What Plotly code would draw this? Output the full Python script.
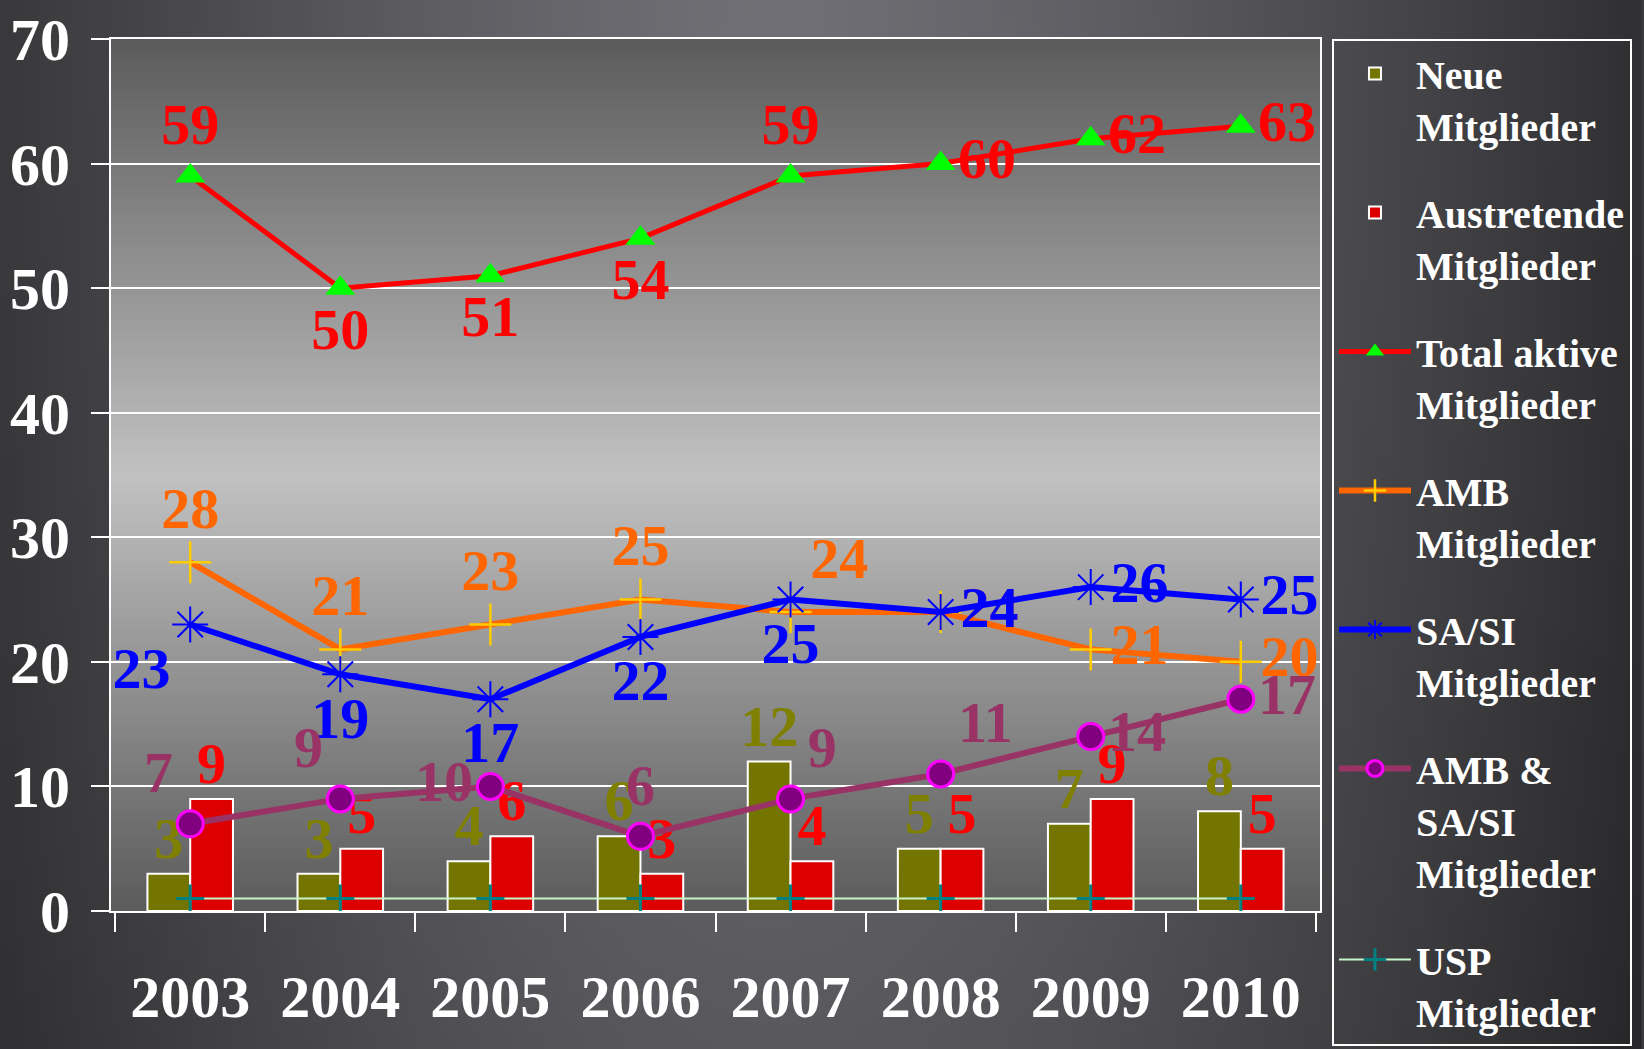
import base64
import struct
import zlib

import numpy as np
import plotly.graph_objects as go

YEARS = ["2003", "2004", "2005", "2006", "2007", "2008", "2009", "2010"]
NEUE = [3, 3, 4, 6, 12, 5, 7, 8]
AUSTRETENDE = [9, 5, 6, 3, 4, 5, 9, 5]
TOTAL = [59, 50, 51, 54, 59, 60, 62, 63]
AMB = [28, 21, 23, 25, 24, 24, 21, 20]
SASI = [23, 19, 17, 22, 25, 24, 26, 25]
AMB_SASI = [7, 9, 10, 6, 9, 11, 14, 17]
USP = [1, 1, 1, 1, 1, 1, 1, 1]

W, H = 1644, 1049
ML, MR, MT, MB = 111, 322, 39, 138
PW, PH = W - ML - MR, H - MT - MB

FONT = "Liberation Serif"
LBL = 58


def png_uri(rgb):
    """tiny png encoder so the gradients can sit behind the plot as images"""
    h, w, _ = rgb.shape
    raw = b"".join(b"\x00" + rgb[y].astype(np.uint8).tobytes() for y in range(h))

    def chunk(tag, data):
        c = struct.pack(">I", len(data)) + tag + data
        return c + struct.pack(">I", zlib.crc32(tag + data) & 0xFFFFFFFF)

    png = b"\x89PNG\r\n\x1a\n"
    png += chunk(b"IHDR", struct.pack(">IIBBBBB", w, h, 8, 2, 0, 0, 0))
    png += chunk(b"IDAT", zlib.compress(raw, 9))
    png += chunk(b"IEND", b"")
    return "data:image/png;base64," + base64.b64encode(png).decode()


# page: dark slate, lighter towards the centre, darkest at left/right edges
gx, gy = np.meshgrid(np.linspace(0, 1, 160), np.linspace(0, 1, 100))
d = np.clip(np.sqrt(((gx - 0.47) / 0.62) ** 2 + ((gy - 0.05) / 2.4) ** 2), 0, 1)
c0, c1 = np.array([112, 112, 118]), np.array([34, 34, 36])
page_img = c0 + (c1 - c0) * d[..., None] ** 1.3

# plot area: vertical gradient, light in the middle, darker at top and bottom
t = np.linspace(0, 1, 200)
k = 1 - np.abs(t - 0.5) * 2
e0, e1 = np.array([92, 92, 92]), np.array([194, 194, 194])
col = e0 + (e1 - e0) * k[:, None]
plot_img = np.repeat(col[:, None, :], 4, axis=1)

fig = go.Figure()

fig.add_trace(go.Bar(
    x=YEARS, y=NEUE, name="Neue<br>Mitglieder", legendgroup="a",
    marker=dict(color="#747400", line=dict(color="white", width=2)),
    text=NEUE, textposition="outside", constraintext="none", cliponaxis=False,
    textfont=dict(family=FONT, size=LBL, color="#808000", weight="bold"),
))
fig.add_trace(go.Bar(
    x=YEARS, y=AUSTRETENDE, name="Austretende<br>Mitglieder", legendgroup="b",
    marker=dict(color="#dd0000", line=dict(color="white", width=2)),
    text=AUSTRETENDE, textposition="outside", constraintext="none", cliponaxis=False,
    textfont=dict(family=FONT, size=LBL, color="#ff0000", weight="bold"),
))

lines = [
    ("Total aktive<br>Mitglieder", TOTAL, "#ff0000", 5,
     dict(symbol="triangle-up", size=26, color="#00ff00"),
     ["top center", "bottom center", "bottom center", "bottom center",
      "top center", "middle right", "middle right", "middle right"], "#ff0000"),
    ("AMB<br>Mitglieder", AMB, "#ff6600", 6,
     dict(symbol="cross-thin-open", size=30, color="#ffcc00", line=dict(width=2.5, color="#ffcc00")),
     ["top center", "top center", "top center", "top center",
      "top right", "middle right", "middle right", "middle right"], "#ff6600"),
    ("SA/SI<br>Mitglieder", SASI, "#0000ff", 6,
     dict(symbol="asterisk-open", size=30, color="#0000ff", line=dict(width=2, color="#0000ff")),
     ["bottom left", "bottom center", "bottom center", "bottom center",
      "bottom center", "middle right", "middle right", "middle right"], "#0000ff"),
    ("AMB &<br>SA/SI<br>Mitglieder", AMB_SASI, "#993366", 6,
     dict(symbol="circle", size=26, color="#800080", line=dict(width=3, color="#ff00ff")),
     ["top left", "top left", "middle left", "top center",
      "top right", "top right", "middle right", "middle right"], "#993366"),
]
for i, (name, vals, lc, lw, mk, pos, tc) in enumerate(lines):
    fig.add_trace(go.Scatter(
        x=YEARS, y=vals, name=name, legendgroup="l%d" % i, mode="lines+markers+text",
        line=dict(color=lc, width=lw), marker=mk, text=vals, textposition=pos,
        cliponaxis=False, textfont=dict(family=FONT, size=LBL, color=tc, weight="bold"),
    ))

fig.add_trace(go.Scatter(
    x=YEARS, y=USP, name="USP<br>Mitglieder", legendgroup="u", mode="lines+markers",
    line=dict(color="#c8f5c8", width=2),
    marker=dict(symbol="cross-thin-open", size=20, color="#008080", line=dict(width=3, color="#008080")),
))

axis_font = dict(family=FONT, size=60, color="white", weight="bold")
fig.update_layout(
    width=W, height=H, margin=dict(l=ML, r=MR, t=MT, b=MB),
    paper_bgcolor="#3a3a3c", plot_bgcolor="rgba(0,0,0,0)",
    barmode="group", bargap=0.43, bargroupgap=0,
    showlegend=True,
    legend=dict(
        x=(1334 - ML) / PW, xanchor="left", y=1, yanchor="top",
        bgcolor="rgba(0,0,0,0)", bordercolor="white", borderwidth=2,
        font=dict(family=FONT, size=40, color="white", weight="bold"),
        valign="top", itemwidth=72, tracegroupgap=32, traceorder="grouped",
        maxheight=1040,
    ),
    xaxis=dict(
        type="category", tickson="boundaries", ticks="outside", ticklen=19,
        tickwidth=2, tickcolor="white", showline=True, linecolor="white",
        linewidth=2, mirror=True, showgrid=False, tickfont=axis_font,
        ticklabelstandoff=32, automargin=False,
    ),
    yaxis=dict(
        range=[0, 70], dtick=10, ticks="outside", ticklen=18, tickwidth=2,
        tickcolor="white", showline=True, linecolor="white", linewidth=2,
        mirror=True, gridcolor="white", gridwidth=2, zeroline=False,
        tickfont=axis_font, ticklabelstandoff=9, automargin=False,
    ),
    images=[
        dict(source=png_uri(page_img), xref="paper", yref="paper",
             x=-ML / PW, y=1 + MT / PH, sizex=W / PW, sizey=H / PH,
             xanchor="left", yanchor="top", sizing="stretch", layer="below"),
        dict(source=png_uri(plot_img), xref="paper", yref="paper",
             x=0, y=1, sizex=1, sizey=1, xanchor="left", yanchor="top",
             sizing="stretch", layer="below"),
    ],
)

fig.write_html(
    "out.html",
    config={"displayModeBar": False},
    post_script="document.body.style.margin='0';document.body.style.overflow='hidden';",
)
